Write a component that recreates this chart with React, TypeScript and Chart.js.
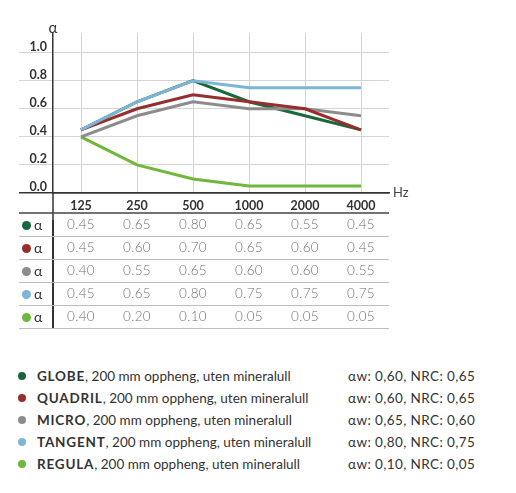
import React, { useEffect, useRef, useState } from 'react';
import { Chart, registerables } from 'chart.js';

Chart.register(...registerables);

// ---- data ----
const frequencies = ['125', '250', '500', '1000', '2000', '4000'];
const globe = [0.45, 0.65, 0.8, 0.65, 0.55, 0.45];
const quadril = [0.45, 0.6, 0.7, 0.65, 0.6, 0.45];
const micro = [0.4, 0.55, 0.65, 0.6, 0.6, 0.55];
const tangent = [0.45, 0.65, 0.8, 0.75, 0.75, 0.75];
const regula = [0.4, 0.2, 0.1, 0.05, 0.05, 0.05];
const productNames = ['GLOBE', 'QUADRIL', 'MICRO', 'TANGENT', 'REGULA'];
const productDesc = ', 200 mm oppheng, uten mineralull';
const weightedAlpha = ['0,60', '0,60', '0,65', '0,80', '0,10'];
const nrcValues = ['0,65', '0,65', '0,60', '0,75', '0,05'];
const yTicks = [0, 0.2, 0.4, 0.6, 0.8, 1.0];

const series = [globe, quadril, micro, tangent, regula];
const colors = ['#17683a', '#972d2d', '#8c8c8c', '#7db5d7', '#70b83c'];
const drawOrder = [3, 1, 2, 0, 4];

const FONT = 'Lato, "Open Sans", sans-serif';
const CANVAS_W = 516;
const CANVAS_H = 220;
const HEADER_LINE_Y = 213;
const ROW_H = 23;
const TABLE_LEFT = 19;

const extrasPlugin = {
  id: 'extras',
  afterDraw(chart: any) {
    const { ctx, chartArea } = chart;
    ctx.save();
    ctx.fillStyle = '#333';
    ctx.font = `15px ${FONT}`;
    ctx.textAlign = 'center';
    ctx.textBaseline = 'middle';
    ctx.fillText('α', chartArea.left, chartArea.top - 5);
    ctx.font = `13px ${FONT}`;
    ctx.fillStyle = '#444';
    ctx.textAlign = 'left';
    ctx.fillText('Hz', chartArea.right + 4, chartArea.bottom);
    // axis extension into header row
    ctx.strokeStyle = '#333';
    ctx.lineWidth = 1.5;
    ctx.beginPath();
    ctx.moveTo(chartArea.left, chartArea.bottom);
    ctx.lineTo(chartArea.left, CANVAS_H);
    ctx.stroke();
    // header bottom line
    ctx.strokeStyle = '#444';
    ctx.beginPath();
    ctx.moveTo(TABLE_LEFT, HEADER_LINE_Y);
    ctx.lineTo(chartArea.right, HEADER_LINE_Y);
    ctx.stroke();
    ctx.restore();
  },
};

export default function App() {
  const canvasRef = useRef<HTMLCanvasElement | null>(null);
  const [cols, setCols] = useState<number[]>([]);
  const [area, setArea] = useState<{ left: number; right: number }>({ left: 53, right: 389 });

  useEffect(() => {
    const canvas = canvasRef.current;
    if (!canvas) return;
    const chart = new Chart(canvas, {
      type: 'line',
      data: {
        labels: frequencies,
        datasets: series.map((s, i) => ({
          label: productNames[i],
          data: s,
          borderColor: colors[i],
          backgroundColor: colors[i],
          borderWidth: 3,
          pointRadius: 0,
          tension: 0,
          fill: false,
          order: drawOrder[i],
        })),
      },
      options: {
        animation: false,
        responsive: false,
        maintainAspectRatio: false,
        layout: { padding: { left: 0, right: 127, top: 33, bottom: CANVAS_H - HEADER_LINE_Y } },
        plugins: { legend: { display: false }, tooltip: { enabled: false } },
        scales: {
          x: {
            offset: true,
            grid: { color: '#d4d4d4', lineWidth: 1, drawTicks: false, offset: false },
            border: { color: '#333', width: 1.5 },
            ticks: {
              padding: 5,
              color: '#333',
              font: { family: FONT, weight: 'bold', size: 12.5 },
              maxRotation: 0,
            },
            afterFit: (s: any) => {
              s.height = 20;
            },
          },
          y: {
            min: 0,
            max: 1.14,
            afterBuildTicks: (axis: any) => {
              axis.ticks = yTicks.map((v) => ({ value: v }));
            },
            grid: {
              color: (c: any) => (c.tick && c.tick.value === 0 ? '#333' : '#d4d4d4'),
              lineWidth: (c: any) => (c.tick && c.tick.value === 0 ? 1.5 : 1),
              tickLength: 34,
            },
            border: { color: '#333', width: 1.5 },
            ticks: {
              padding: -28,
              labelOffset: -6,
              color: '#333',
              font: { family: FONT, weight: 'bold', size: 12.5 },
              callback: (v: any) => Number(v).toFixed(1),
            },
            afterFit: (s: any) => {
              s.width = 53;
            },
          },
        },
      },
      plugins: [extrasPlugin],
    } as any);
    const xs = chart.scales.x as any;
    setCols(frequencies.map((_, i) => xs.getPixelForValue(i)));
    setArea({ left: chart.chartArea.left, right: chart.chartArea.right });
    return () => chart.destroy();
  }, []);

  return (
    <div
      style={{
        position: 'absolute',
        left: 0,
        top: 0,
        width: CANVAS_W,
        height: 493,
        background: '#fff',
        fontFamily: FONT,
        overflow: 'hidden',
      }}
    >
      <canvas
        ref={canvasRef}
        width={CANVAS_W}
        height={CANVAS_H}
        style={{ position: 'absolute', left: 0, top: 0, width: CANVAS_W, height: CANVAS_H }}
      />
      {/* table */}
      <div
        style={{
          position: 'absolute',
          left: area.left - 0.75,
          top: CANVAS_H,
          width: 1.5,
          height: HEADER_LINE_Y + ROW_H * series.length - CANVAS_H,
          background: '#333',
        }}
      />
      {series.map((s, r) => {
        const top = HEADER_LINE_Y + r * ROW_H;
        return (
          <React.Fragment key={r}>
            <div
              style={{
                position: 'absolute',
                left: TABLE_LEFT,
                top: top + ROW_H - 0.5,
                width: area.right - TABLE_LEFT,
                height: 1,
                background: '#bdbdbd',
              }}
            />
            <div
              style={{
                position: 'absolute',
                left: 22,
                top: top + ROW_H / 2 - 4,
                width: 9,
                height: 9,
                borderRadius: '50%',
                background: colors[r],
              }}
            />
            <div
              style={{
                position: 'absolute',
                left: 34,
                top: top,
                height: ROW_H,
                lineHeight: `${ROW_H}px`,
                fontSize: 14,
                color: '#333',
              }}
            >
              α
            </div>
            {cols.map((cx, i) => (
              <div
                key={i}
                style={{
                  position: 'absolute',
                  left: cx - 30,
                  width: 60,
                  top: top,
                  height: ROW_H,
                  lineHeight: `${ROW_H}px`,
                  textAlign: 'center',
                  fontSize: 13.5,
                  fontWeight: 300,
                  color: '#707070',
                  letterSpacing: 0.3,
                }}
              >
                {s[i].toFixed(2)}
              </div>
            ))}
          </React.Fragment>
        );
      })}
      {/* legend */}
      {productNames.map((name, i) => {
        const cy = 376 + i * 22;
        return (
          <React.Fragment key={name}>
            <div
              style={{
                position: 'absolute',
                left: 18,
                top: cy - 4,
                width: 8,
                height: 8,
                borderRadius: '50%',
                background: colors[i],
              }}
            />
            <div
              style={{
                position: 'absolute',
                left: 37,
                top: cy - 10,
                height: 20,
                lineHeight: '20px',
                fontSize: 13.5,
                color: '#333',
                whiteSpace: 'nowrap',
                letterSpacing: 0,
              }}
            >
              <span style={{ fontWeight: 'bold', letterSpacing: 0.8 }}>{name}</span>
              {productDesc}
            </div>
            <div
              style={{
                position: 'absolute',
                left: 348,
                top: cy - 10,
                height: 20,
                lineHeight: '20px',
                fontSize: 13.5,
                color: '#333',
                whiteSpace: 'nowrap',
                letterSpacing: 0.4,
              }}
            >
              {`αw: ${weightedAlpha[i]}, NRC: ${nrcValues[i]}`}
            </div>
          </React.Fragment>
        );
      })}
    </div>
  );
}
